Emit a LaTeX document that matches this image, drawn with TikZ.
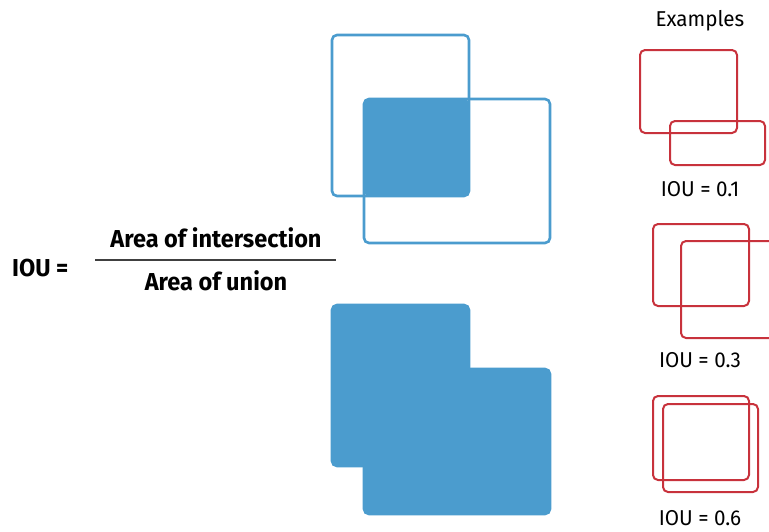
\documentclass[tikz,border=0pt]{standalone}
\usepackage{fontspec}
\setmainfont{Fira Sans}[FakeStretch=0.96]
\definecolor{ioublue}{RGB}{75,156,206}
\definecolor{iored}{RGB}{200,50,60}
\begin{document}
\begin{tikzpicture}[x=1pt,y=-1pt,
  bluebox/.style={draw=ioublue,line width=2.6pt,rounded corners=5pt},
  bluefill/.style={fill=ioublue,draw=ioublue,line width=2.6pt,rounded corners=5pt},
  redbox/.style={draw=iored,line width=2pt,rounded corners=5pt},
  lbl/.style={font=\fontsize{21.5}{23}\selectfont,inner sep=0pt},
  frm/.style={font=\fontsize{24.5}{27}\selectfont\bfseries,inner sep=0pt}]
\useasboundingbox (0,0) rectangle (769,531);
\clip (0,0) rectangle (769,531);
% intersection
\fill[ioublue,rounded corners=5pt] (364,99) rectangle (469,196);
\draw[bluebox] (332,35) rectangle (469,196);
\draw[bluebox] (364,99) rectangle (550,243);
% union
\draw[bluefill] (332,305) rectangle (469,466);
\draw[bluefill] (364,369) rectangle (550,514);
% formula
\node[frm,anchor=west] (iou) at (12,268) {IOU =};
\node[frm] (num) at (216,238) {Area of intersection};
\node[frm] (den) at (216,281) {Area of union};
\coordinate (fl) at (95,260);
\coordinate (fr) at (336,260);
\draw[line width=1.6pt,black!75] (fl) -- (fr);
% examples
\node[lbl] (ex) at (700,21) {Examples};
\draw[redbox] (640,50) rectangle (737,133);
\draw[redbox] (670,121) rectangle (765,165);
\node[lbl] (l1) at (700,189) {IOU = 0.1};
\draw[redbox] (653,224) rectangle (749,306);
\draw[redbox] (681,241) rectangle (780,338);
\node[lbl] (l2) at (700,360) {IOU = 0.3};
\draw[redbox] (653,396) rectangle (749,480);
\draw[redbox] (663,404) rectangle (758,492);
\node[lbl] (l3) at (700,518) {IOU = 0.6};
\end{tikzpicture}
\end{document}
